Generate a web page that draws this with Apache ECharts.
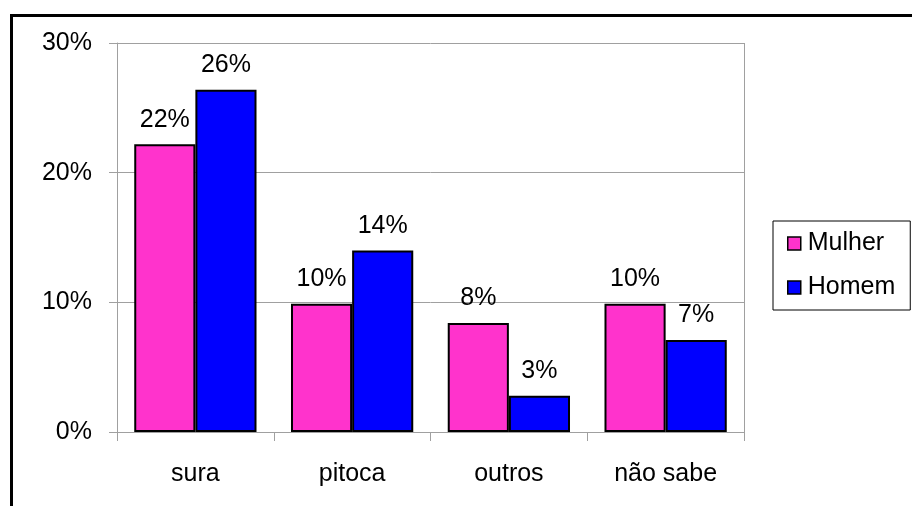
<!DOCTYPE html>
<html>
<head>
<meta charset="utf-8">
<script src="https://cdn.jsdelivr.net/npm/echarts@6/dist/echarts.min.js"></script>
<style>
  html, body { margin: 0; padding: 0; background: #fff; }
  #chart { width: 912px; height: 506px; }
</style>
</head>
<body>
<div id="chart"></div>
<script>
// Respostas por sexo (percentagem)
const categories = ['sura', 'pitoca', 'outros', 'não sabe'];
const mulher = [22.2, 9.9, 8.4, 9.9];
const homem = [26.4, 14.0, 2.8, 7.1];
const yTicks = [0, 10, 20, 30];

const FONT = '"Liberation Sans", Arial, sans-serif';
const AXIS_GRAY = '#a0a0a0';
const FS = 25;

const chart = echarts.init(document.getElementById('chart'), null, { renderer: 'canvas' });

const barLabel = {
  show: true,
  position: 'top',
  distance: 12,
  color: '#000',
  fontFamily: FONT,
  fontSize: FS,
  formatter: p => Math.round(p.value) + '%'
};

chart.setOption({
  backgroundColor: '#fff',
  animation: false,
  textStyle: { fontFamily: FONT },
  graphic: [
    {
      // outer frame
      type: 'rect',
      shape: { x: 11.5, y: 15.5, width: 1000, height: 600 },
      style: { fill: 'none', stroke: '#000', lineWidth: 3 },
      z: 0
    },
    {
      // right edge of the plot area, reaching down to tick level
      type: 'line',
      shape: { x1: 744.5, y1: 43, x2: 744.5, y2: 441 },
      style: { stroke: AXIS_GRAY, lineWidth: 1 },
      z: 1
    }
  ],
  grid: { left: 117, right: 168, top: 43, bottom: 74, containLabel: false },
  legend: {
    orient: 'vertical',
    left: 773,
    top: 221,
    padding: [10, 15, 10, 14],
    itemGap: 19,
    itemWidth: 13,
    itemHeight: 13,
    icon: 'rect',
    borderColor: '#000',
    borderWidth: 1,
    backgroundColor: '#fff',
    itemStyle: { borderColor: '#000', borderWidth: 1.5 },
    textStyle: { fontFamily: FONT, fontSize: FS, color: '#000', padding: [0, 0, 0, 2] },
    data: ['Mulher', 'Homem']
  },
  xAxis: {
    type: 'category',
    data: categories,
    axisLine: { show: true, lineStyle: { color: AXIS_GRAY, width: 1 } },
    axisTick: { show: true, length: 9, lineStyle: { color: AXIS_GRAY } },
    axisLabel: { color: '#000', fontFamily: FONT, fontSize: FS, margin: 30 },
    splitLine: { show: false }
  },
  yAxis: {
    type: 'value',
    min: yTicks[0],
    max: yTicks[yTicks.length - 1],
    interval: 10,
    axisLine: { show: true, lineStyle: { color: AXIS_GRAY, width: 1 } },
    axisTick: { show: true, length: 8, lineStyle: { color: AXIS_GRAY } },
    axisLabel: { color: '#000', fontFamily: FONT, fontSize: FS, margin: 25, formatter: v => v + '%' },
    splitLine: { show: true, lineStyle: { color: AXIS_GRAY, width: 1 } }
  },
  series: [
    {
      name: 'Mulher',
      type: 'bar',
      data: mulher,
      barGap: '0%',
      barCategoryGap: '22%',
      itemStyle: { color: '#FF33CC', borderColor: '#000', borderWidth: 2 },
      label: barLabel
    },
    {
      name: 'Homem',
      type: 'bar',
      data: homem,
      itemStyle: { color: '#0000FF', borderColor: '#000', borderWidth: 2 },
      label: barLabel
    }
  ]
});
</script>
</body>
</html>
